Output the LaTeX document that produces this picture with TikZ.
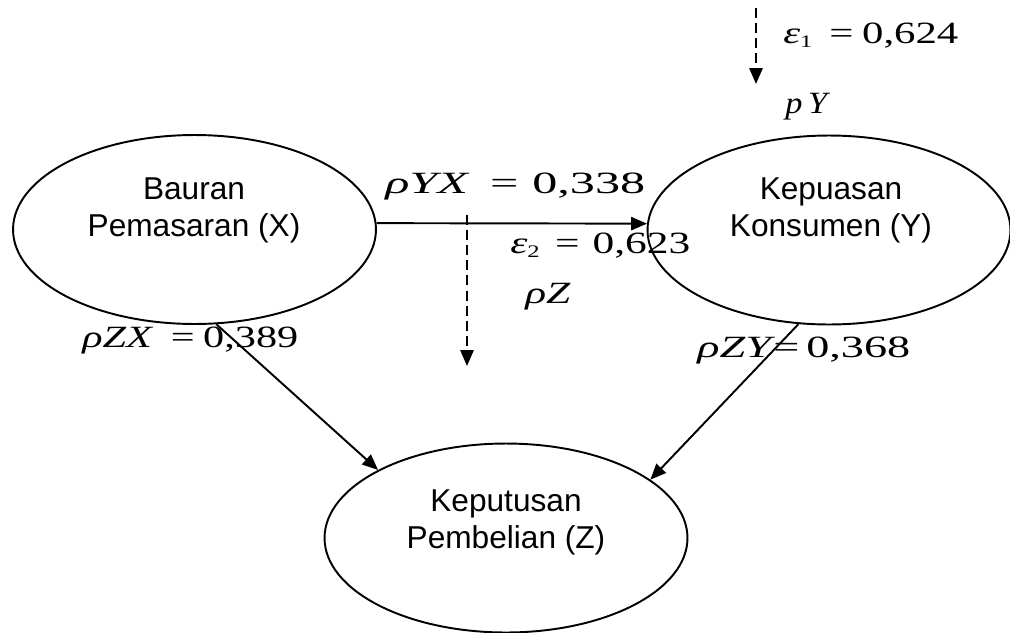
\documentclass[tikz,border=0pt]{standalone}
\usepackage{graphicx}
\usepackage{fontspec}
\setsansfont{Liberation Sans}
\newfontfamily\tnr{Liberation Serif}
\usetikzlibrary{arrows.meta,shapes.geometric}
\newsavebox\lbbox
\newcommand\fitw[2]{\sbox\lbbox{#2}\scalebox{\fpeval{(#1)/(\the\wd\lbbox)}}[1]{\usebox\lbbox}}
\newcommand\sub[1]{\raisebox{-0.35ex}{\fontsize{10}{10}\selectfont #1}}
\tikzset{
  var/.style={draw,ellipse,line width=1.1pt,inner sep=0pt,minimum width=7.26cm,minimum height=3.78cm},
  vtext/.style={align=center,inner sep=0pt,font=\sffamily\fontsize{18}{21}\selectfont},
  conn/.style={line width=1.1pt,-{Triangle[length=9pt,width=7.5pt]}},
  dconn/.style={conn,dash pattern=on 5.7pt off 2.9pt},
  lab/.style={anchor=base west,inner sep=0pt,font=\tnr\fontsize{17.6}{20}\selectfont}
}
\begin{document}
\begin{tikzpicture}[x=0.02cm,y=-0.02cm]
\useasboundingbox (0,0) rectangle (1010,632);
\node[var] (X) at (194.5,229.5) {};
\node[var] (Y) at (829,230) {};
\node[var] (Z) at (506,538) {};
\node[vtext] (Xt) at (194,210.5) {Bauran\\Pemasaran (X)};
\node[vtext] (Yt) at (831,210.5) {Kepuasan\\Konsumen (Y)};
\node[vtext] (Zt) at (506,522) {Keputusan\\Pembelian (Z)};
\draw[conn] (X.2) -- (Y.178);
\draw[conn] (X.283) -- (Z.152);
\draw[conn] (Y.252) -- (Z.22);
\coordinate (e2s) at (467,215);
\coordinate (e2e) at (467,366);
\draw[dconn] (e2s) -- (e2e);
\coordinate (e1s) at (756,8);
\coordinate (e1e) at (756,84);
\draw[dconn] (e1s) -- (e1e);
\node[lab] (l1) at (783,43) {\fitw{175*0.02cm}{\itshape ε\upshape\sub{1}\hspace{0.4em}=\hspace{0.2em}0,624}};
\node[lab] (l2) at (785,113) {\fitw{42*0.02cm}{\itshape p\,Y}};
\node[lab] (l3) at (385,193) {\fitw{260*0.02cm}{\itshape ρYX\upshape\hspace{0.44em}=\hspace{0.28em}0,338}};
\node[lab] (l4) at (510,253) {\fitw{180*0.02cm}{\itshape ε\upshape\sub{2}\hspace{0.35em}=\hspace{0.3em}0,623}};
\node[lab] (l5) at (525,303) {\fitw{45*0.02cm}{\itshape ρZ}};
\node[lab] (l6) at (82,347) {\fitw{216*0.02cm}{\itshape ρZX\upshape\hspace{0.45em}=\hspace{0.2em}0,389}};
\node[lab] (l7) at (697,357) {\fitw{213*0.02cm}{\itshape ρZY\upshape\hspace{0.05em}=\hspace{0.15em}0,368}};
\end{tikzpicture}
\end{document}
